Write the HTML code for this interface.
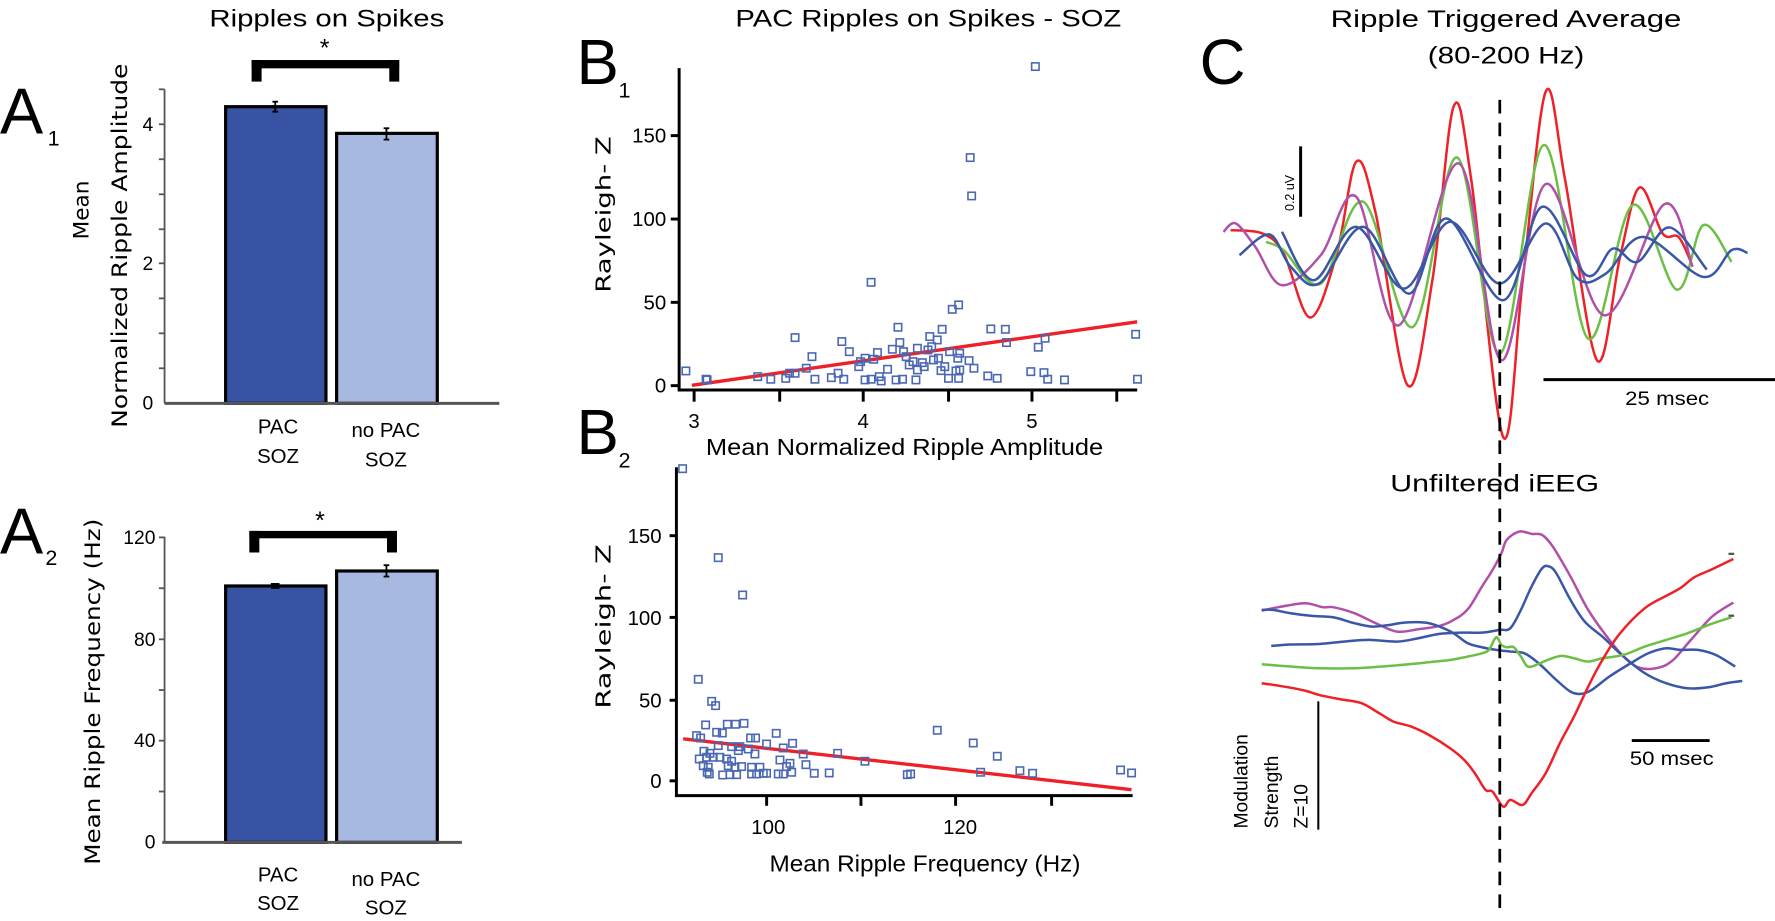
<!DOCTYPE html>
<html><head><meta charset="utf-8"><style>
html,body{margin:0;padding:0;background:#fff;}
svg{display:block;}
text{font-family:"Liberation Sans",sans-serif;fill:#000;}
.w{font-family:"DejaVu Sans","Liberation Sans",sans-serif;}
</style></head><body>
<svg id="s" xmlns="http://www.w3.org/2000/svg" width="1775" height="921" viewBox="0 0 1564 811.5" preserveAspectRatio="none">
<rect x="0" y="0" width="1564" height="811.5" fill="#fff"/>
<!-- ===== A1 ===== -->
<text x="288" y="23.5" font-size="21" text-anchor="middle" textLength="207" lengthAdjust="spacingAndGlyphs">Ripples on Spikes</text>
<text x="0" y="117.5" font-size="57">A</text>
<text x="42" y="128" font-size="19">1</text>
<rect x="221.7" y="52.9" width="130" height="7.3" fill="#000"/>
<rect x="221.7" y="52.9" width="8.8" height="19" fill="#000"/>
<rect x="343" y="52.9" width="8.8" height="19" fill="#000"/>
<text x="286" y="50" font-size="22" text-anchor="middle">*</text>
<g stroke="#555" stroke-width="1.6">
<line x1="145" y1="78.7" x2="145" y2="355.4"/>
<line x1="140" y1="78.7" x2="145" y2="78.7"/><line x1="140" y1="109.5" x2="145" y2="109.5"/>
<line x1="140" y1="140.3" x2="145" y2="140.3"/><line x1="140" y1="171.2" x2="145" y2="171.2"/>
<line x1="140" y1="202" x2="145" y2="202"/><line x1="140" y1="232" x2="145" y2="232"/>
<line x1="140" y1="262.9" x2="145" y2="262.9"/><line x1="140" y1="293.7" x2="145" y2="293.7"/>
<line x1="140" y1="324.5" x2="145" y2="324.5"/>
</g>
<rect x="198.8" y="94" width="88.4" height="261.4" fill="#3953a4" stroke="#000" stroke-width="2.8"/>
<rect x="296.6" y="117.5" width="88.7" height="237.9" fill="#a7b9e1" stroke="#000" stroke-width="2.8"/>
<line x1="145" y1="355.4" x2="440" y2="355.4" stroke="#555" stroke-width="2.6"/>
<g stroke="#000" stroke-width="1.6"><line x1="242.5" y1="89.6" x2="242.5" y2="98.4"/><line x1="240" y1="89.6" x2="245" y2="89.6"/><line x1="240" y1="98.4" x2="245" y2="98.4"/>
<line x1="340.5" y1="113" x2="340.5" y2="123"/><line x1="338" y1="113" x2="343" y2="113"/><line x1="338" y1="123" x2="343" y2="123"/></g>
<g font-size="17" text-anchor="end"><text x="135" y="115.5">4</text><text x="135" y="238">2</text><text x="135" y="361">0</text></g>
<g font-size="18" text-anchor="middle"><text x="245" y="381.8">PAC</text><text x="245" y="408">SOZ</text><text x="340" y="385">no PAC</text><text x="340" y="411">SOZ</text></g>
<text class="w" transform="translate(78,185) rotate(-90)" font-size="19" text-anchor="middle">Mean</text>
<text class="w" transform="translate(112,216.5) rotate(-90)" font-size="19" text-anchor="middle" textLength="321" lengthAdjust="spacingAndGlyphs">Normalized Ripple Amplitude</text>
<!-- ===== A2 ===== -->
<text x="0" y="487.5" font-size="57">A</text>
<text x="40" y="497.8" font-size="19">2</text>
<rect x="219.7" y="467.8" width="130" height="6.5" fill="#000"/>
<rect x="219.7" y="467.8" width="8.8" height="19" fill="#000"/>
<rect x="341" y="467.8" width="8.8" height="19" fill="#000"/>
<text x="282" y="466" font-size="22" text-anchor="middle">*</text>
<g stroke="#555" stroke-width="1.6">
<line x1="145" y1="472.8" x2="145" y2="742.2"/>
<line x1="140" y1="473.5" x2="145" y2="473.5"/><line x1="140" y1="518.3" x2="145" y2="518.3"/>
<line x1="140" y1="563.3" x2="145" y2="563.3"/><line x1="140" y1="608" x2="145" y2="608"/>
<line x1="140" y1="652.6" x2="145" y2="652.6"/><line x1="140" y1="697.4" x2="145" y2="697.4"/>
</g>
<rect x="198.8" y="516.3" width="88.4" height="225.9" fill="#3953a4" stroke="#000" stroke-width="2.8"/>
<rect x="296.6" y="503.1" width="88.7" height="239.1" fill="#a7b9e1" stroke="#000" stroke-width="2.8"/>
<line x1="143" y1="742.2" x2="407" y2="742.2" stroke="#555" stroke-width="2.6"/>
<g stroke="#000" stroke-width="1.6"><line x1="242.5" y1="514.5" x2="242.5" y2="518"/><rect x="239.5" y="514.5" width="6" height="3.5" fill="#000"/>
<line x1="340.5" y1="498" x2="340.5" y2="508"/><line x1="338" y1="498" x2="343" y2="498"/><line x1="338" y1="508" x2="343" y2="508"/></g>
<g font-size="17" text-anchor="end"><text x="137" y="479.5">120</text><text x="137" y="569">80</text><text x="137" y="658">40</text><text x="137" y="747.5">0</text></g>
<g font-size="18" text-anchor="middle"><text x="245" y="776.8">PAC</text><text x="245" y="801.8">SOZ</text><text x="340" y="780.6">no PAC</text><text x="340" y="805.6">SOZ</text></g>
<text class="w" transform="translate(88,609.5) rotate(-90)" font-size="19" text-anchor="middle" textLength="305" lengthAdjust="spacingAndGlyphs">Mean Ripple Frequency (Hz)</text>
<!-- ===== B ===== -->
<text x="818" y="23.5" font-size="21" text-anchor="middle" textLength="340" lengthAdjust="spacingAndGlyphs">PAC Ripples on Spikes - SOZ</text>
<text x="508" y="74" font-size="56">B</text><text x="545" y="86" font-size="19">1</text>
<text x="508" y="400" font-size="56">B</text><text x="545" y="412" font-size="19">2</text>
<!-- B1 axes -->
<g stroke="#000" stroke-width="2.6" fill="none">
<polyline points="598.4,60 598.4,343.6 1002,343.6"/>
<line x1="591" y1="339.8" x2="598.4" y2="339.8"/><line x1="591" y1="266.4" x2="598.4" y2="266.4"/>
<line x1="591" y1="193" x2="598.4" y2="193"/><line x1="591" y1="119.5" x2="598.4" y2="119.5"/>
<line x1="611.6" y1="343.6" x2="611.6" y2="353.9"/><line x1="687" y1="343.6" x2="687" y2="353.9"/>
<line x1="760.6" y1="343.6" x2="760.6" y2="353.9"/><line x1="835.8" y1="343.6" x2="835.8" y2="353.9"/>
<line x1="909.3" y1="343.6" x2="909.3" y2="353.9"/><line x1="984" y1="343.6" x2="984" y2="353.9"/>
</g>
<g font-size="18" text-anchor="end"><text x="587" y="346">0</text><text x="587" y="272.5">50</text><text x="587" y="199">100</text><text x="587" y="125.5">150</text></g>
<g font-size="18" text-anchor="middle"><text x="611.6" y="377">3</text><text x="760.6" y="377">4</text><text x="909.3" y="377">5</text></g>
<text x="797" y="401" font-size="20" text-anchor="middle" textLength="350" lengthAdjust="spacingAndGlyphs">Mean Normalized Ripple Amplitude</text>
<text class="w" transform="translate(538,189) rotate(-90)" font-size="18" text-anchor="middle" textLength="138" lengthAdjust="spacingAndGlyphs">Rayleigh- Z</text>
<line x1="609.6" y1="339.5" x2="1002" y2="283.5" stroke="#ee2128" stroke-width="3"/>
<g id="b1" fill="none" stroke="#4a67b5" stroke-width="1.4"></g>
<!-- B2 axes -->
<g stroke="#000" stroke-width="2.6" fill="none">
<polyline points="596,411.7 596,701 998,701"/>
<line x1="590" y1="688" x2="596" y2="688"/><line x1="590" y1="617" x2="596" y2="617"/>
<line x1="590" y1="544" x2="596" y2="544"/><line x1="590" y1="472" x2="596" y2="472"/>
<line x1="675.5" y1="701" x2="675.5" y2="710"/><line x1="758.6" y1="701" x2="758.6" y2="710"/>
<line x1="842" y1="701" x2="842" y2="710"/><line x1="926.6" y1="701" x2="926.6" y2="710"/>
</g>
<g font-size="18" text-anchor="end"><text x="583" y="694.5">0</text><text x="583" y="623.5">50</text><text x="583" y="550.5">100</text><text x="583" y="478.5">150</text></g>
<g font-size="18" text-anchor="middle"><text x="677" y="735">100</text><text x="846" y="735">120</text></g>
<text x="815" y="768" font-size="20" text-anchor="middle" textLength="274" lengthAdjust="spacingAndGlyphs">Mean Ripple Frequency (Hz)</text>
<text class="w" transform="translate(538,552) rotate(-90)" font-size="18" text-anchor="middle" textLength="145" lengthAdjust="spacingAndGlyphs">Rayleigh- Z</text>
<line x1="602" y1="651" x2="997" y2="695.8" stroke="#ee2128" stroke-width="3"/>
<g id="b2" fill="none" stroke="#4a67b5" stroke-width="1.4"></g>
<!-- ===== C ===== -->
<text x="1057" y="74" font-size="56">C</text>
<text x="1327" y="24" font-size="21" text-anchor="middle" textLength="309" lengthAdjust="spacingAndGlyphs">Ripple Triggered Average</text>
<text x="1327" y="56" font-size="21" text-anchor="middle" textLength="138" lengthAdjust="spacingAndGlyphs">(80-200 Hz)</text>
<text x="1317" y="433" font-size="21" text-anchor="middle" textLength="184" lengthAdjust="spacingAndGlyphs">Unfiltered iEEG</text>
<line x1="1146" y1="129" x2="1146" y2="191" stroke="#000" stroke-width="2.6"/>
<text transform="translate(1140,170) rotate(-90)" font-size="11" text-anchor="middle">0.2 uV</text>
<line x1="1360" y1="334.5" x2="1564" y2="334.5" stroke="#000" stroke-width="2.6"/>
<text x="1469" y="357" font-size="17" text-anchor="middle" textLength="74" lengthAdjust="spacingAndGlyphs">25 msec</text>
<g id="c" fill="none" stroke-width="2.2" stroke-linejoin="round"></g>
<line x1="1321.5" y1="88" x2="1321.5" y2="808" stroke="#000" stroke-width="2.4" stroke-dasharray="12,8"/>
<line x1="1161.6" y1="618" x2="1161.6" y2="731" stroke="#000" stroke-width="1.8"/>
<g font-size="17"><text transform="translate(1099,730) rotate(-90)">Modulation</text>
<text transform="translate(1126,730) rotate(-90)">Strength</text>
<text transform="translate(1152,730) rotate(-90)">Z=10</text></g>
<line x1="1437.8" y1="652.5" x2="1506.4" y2="652.5" stroke="#000" stroke-width="2.6"/>
<text x="1473" y="674" font-size="17" text-anchor="middle" textLength="74" lengthAdjust="spacingAndGlyphs">50 msec</text>
<line x1="1523" y1="488" x2="1528" y2="488" stroke="#555" stroke-width="2"/>
<line x1="1523" y1="542.5" x2="1528" y2="542.5" stroke="#555" stroke-width="2"/>
</svg>
<script>
(function(){
var NS="http://www.w3.org/2000/svg";
function sq(g,x,y,s){var r=document.createElementNS(NS,"rect");r.setAttribute("x",(x-s/2).toFixed(1));r.setAttribute("y",(y-s/2).toFixed(1));r.setAttribute("width",s);r.setAttribute("height",s);g.appendChild(r);}
var b1=[[283,993],[337,1018],[340,1020],[475,1010],[510,1018],[550,1015],[560,1000],[575,893],[575,1000],[605,985],[620,950],[628,1018],[672,1013],[690,1000],[700,905],[705,1018],[720,935],[745,980],[750,965],[762,955],[762,1020],[778,727],[778,1018],[785,958],[795,938],[800,1010],[805,1023],[822,988],[835,928],[845,1020],[850,862],[855,908],[862,1018],[865,935],[872,950],[880,975],[890,965],[898,1020],[902,925],[902,990],[915,968],[920,980],[930,930],[935,890],[940,920],[945,960],[955,900],[958,955],[965,992],[968,868],[975,980],[985,1015],[988,935],[995,808],[1005,993],[1010,955],[1012,795],[1012,1015],[1015,940],[1015,990],[1040,962],[1043,353],[1047,468],[1053,985],[1090,1008],[1098,867],[1115,1015],[1137,868],[1140,908],[1205,995],[1217,80],[1225,922],[1240,998],[1243,895],[1250,1018],[1295,1020],[1485,883],[1490,1018]];
var g1=document.getElementById("b1");
b1.forEach(function(p){sq(g1,511+p[0]*0.3297,35.2+p[1]*0.2937,6.5);});
var b2=[[38,44],[145,311],[218,423],[85,676],[125,742],[137,755],[107,813],[172,811],[197,811],[222,808],[140,835],[157,837],[80,845],[92,852],[319,838],[802,829],[242,852],[257,852],[290,870],[368,868],[340,882],[145,875],[185,878],[210,878],[235,885],[205,890],[102,892],[120,898],[255,900],[400,900],[503,898],[88,915],[110,910],[130,910],[150,910],[170,915],[185,922],[330,918],[360,928],[585,922],[910,867],[982,907],[100,935],[115,940],[175,935],[195,940],[215,938],[245,940],[270,940],[290,958],[350,938],[408,932],[112,955],[118,960],[158,963],[180,962],[200,962],[245,960],[260,960],[280,958],[325,960],[340,960],[365,955],[433,958],[478,957],[712,962],[722,960],[932,955],[1050,950],[1088,958],[1352,948],[1385,957]];
var g2=document.getElementById("b2");
b2.forEach(function(p){sq(g2,590.3+p[0]*0.2937,400+p[1]*0.2937,6.5);});
function cr(pts){var d="M"+pts[0][0].toFixed(1)+","+pts[0][1].toFixed(1);
for(var i=0;i<pts.length-1;i++){var p0=pts[Math.max(0,i-1)],p1=pts[i],p2=pts[i+1],p3=pts[Math.min(pts.length-1,i+2)];
var c1=[p1[0]+(p2[0]-p0[0])/6,p1[1]+(p2[1]-p0[1])/6],c2=[p2[0]-(p3[0]-p1[0])/6,p2[1]-(p3[1]-p1[1])/6];
d+=" C"+c1[0].toFixed(1)+","+c1[1].toFixed(1)+" "+c2[0].toFixed(1)+","+c2[1].toFixed(1)+" "+p2[0].toFixed(1)+","+p2[1].toFixed(1);}return d;}
var gc=document.getElementById("c");
function tr(pts,ox,oy,sx,sy,col){var q=pts.map(function(p){return [ox+p[0]*sx,oy+p[1]*sy];});var e=document.createElementNS(NS,"path");e.setAttribute("d",cr(q));e.setAttribute("stroke",col);gc.appendChild(e);}
var R="#ee2128",G="#6cbf45",M="#b050a8",B="#3a57a7";
var A=[1074.9,70.5,0.312,0.294];
var topTr=[
[[[30,450],[120,460],[180,520],[255,712],[330,520],[385,245],[440,400],[530,915],[600,600],[660,80],[710,300],[800,1070],[855,600],[920,35],[975,300],[1065,840],[1130,530],[1185,322],[1250,460],[1295,470],[1330,545]],R],
[[[130,485],[180,510],[285,610],[405,365],[545,740],[670,232],[790,820],[915,195],[1040,775],[1165,375],[1290,628],[1365,435],[1445,545]],G],
[[[10,455],[45,430],[100,500],[175,615],[285,525],[385,350],[505,735],[675,250],[795,840],[920,312],[1085,705],[1255,372],[1335,560]],M],
[[[55,525],[140,463],[200,560],[280,610],[405,440],[535,640],[640,415],[800,660],[910,380],[1035,585],[1110,505],[1180,545],[1270,442],[1375,568]],B],
[[[175,455],[265,600],[385,440],[520,625],[650,425],[790,610],[920,430],[1010,595],[1090,580],[1195,470],[1365,590],[1445,510],[1490,518]],B]];
topTr.forEach(function(t){tr(t[0],A[0],A[1],A[2],A[3],t[1]);});
var Bz=[1074.9,458.1,0.312,0.2937];
var bot=[
[[[118,272],[165,262],[240,250],[290,262],[320,262],[380,280],[440,310],[500,335],[560,328],[620,318],[660,300],[700,268],[740,200],[770,150],[795,100],[810,60],[845,35],[880,42],[910,45],[940,80],[990,170],[1040,270],[1100,360],[1150,420],[1190,445],[1240,443],[1280,420],[1330,360],[1390,290],[1450,248]],M],
[[[118,270],[150,270],[200,280],[260,288],[320,292],[380,310],[430,320],[480,315],[520,308],[580,308],[620,320],[660,340],[700,370],[740,382],[780,390],[820,395],[860,400],[900,430],[950,480],[990,515],[1020,522],[1050,510],[1100,470],[1160,430],[1210,400],[1260,385],[1300,390],[1350,390],[1400,405],[1455,440]],B],
[[[145,378],[200,374],[280,372],[350,365],[420,360],[500,365],[560,355],[620,342],[680,338],[740,338],[790,330],[820,325],[850,270],[880,200],[910,145],[930,140],[950,160],[990,240],[1030,305],[1080,350],[1140,410],[1200,460],[1260,490],[1320,505],[1380,502],[1430,490],[1475,483]],B],
[[[118,433],[200,440],[280,445],[380,445],[480,438],[580,428],[650,420],[700,410],[740,400],[760,390],[780,352],[795,375],[810,382],[830,382],[850,410],[870,440],[900,432],[930,418],[965,408],[1000,415],[1040,425],[1080,415],[1140,405],[1200,380],[1260,360],[1320,340],[1380,315],[1445,292]],G],
[[[118,490],[170,498],[240,512],[280,525],[340,538],[400,550],[450,580],[490,605],[540,620],[590,645],[650,685],[690,720],[720,760],[750,810],[770,815],[800,860],[820,840],[855,855],[880,820],[920,760],[960,670],[1000,590],[1040,500],[1080,420],[1130,340],[1200,265],[1260,228],[1300,205],[1340,172],[1390,148],[1450,117]],R]];
bot.forEach(function(t){tr(t[0],Bz[0],Bz[1],Bz[2],Bz[3],t[1]);});
})();
</script>
</body></html>
